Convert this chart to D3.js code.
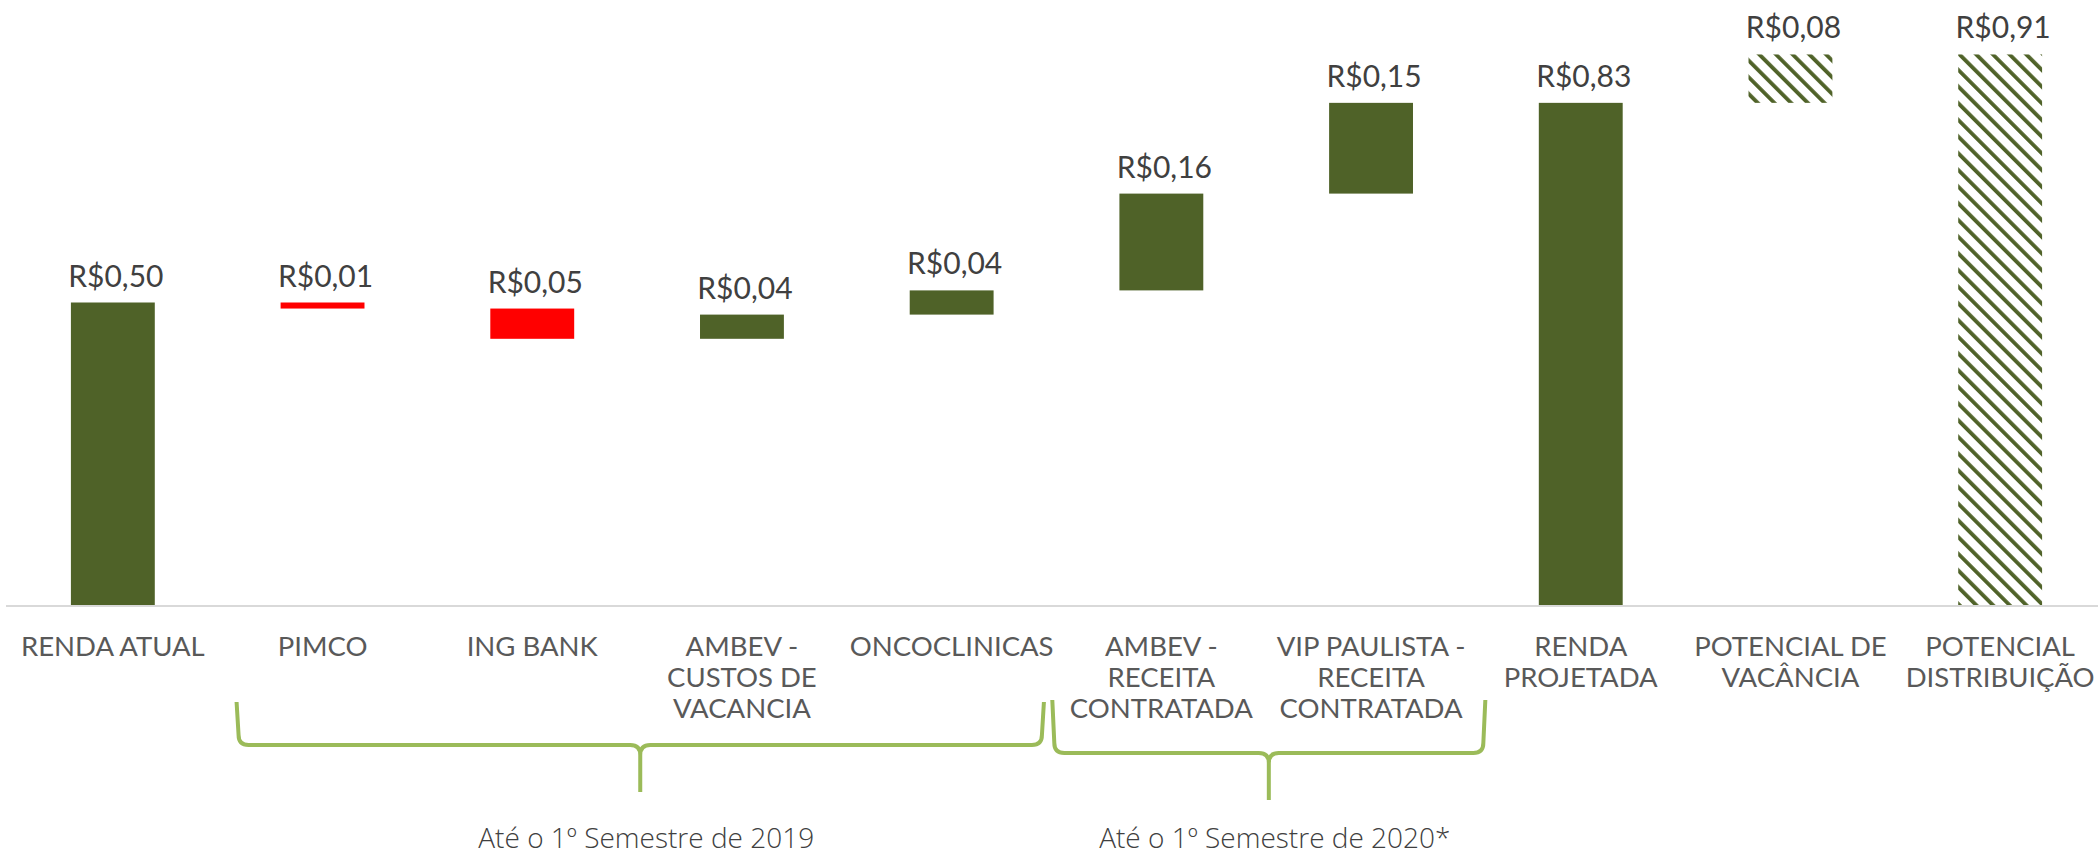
<!DOCTYPE html>
<html>
<head>
<meta charset="utf-8">
<script src="https://cdn.jsdelivr.net/npm/d3@7/dist/d3.min.js"></script>
<style>
  html, body { margin: 0; padding: 0; background: #ffffff; }
  svg { display: block; }
</style>
</head>
<body>
<svg id="chart" width="2098" height="855"></svg>
<script>
// ---------------- DATA ----------------
const categories = [
  "RENDA ATUAL",
  "PIMCO",
  "ING BANK",
  "AMBEV -\nCUSTOS DE\nVACANCIA",
  "ONCOCLINICAS",
  "AMBEV -\nRECEITA\nCONTRATADA",
  "VIP PAULISTA -\nRECEITA\nCONTRATADA",
  "RENDA\nPROJETADA",
  "POTENCIAL DE\nVACÂNCIA",
  "POTENCIAL\nDISTRIBUIÇÃO"
];
const values = [0.50, -0.01, -0.05, 0.04, 0.04, 0.16, 0.15, 0.83, 0.08, 0.91];
const kinds  = ["total", "delta", "delta", "delta", "delta", "delta", "delta", "total", "potential", "potentialTotal"];

const groupLabels = ["Até o 1º Semestre de 2019", "Até o 1º Semestre de 2020*"];
const groupSpans  = [[1, 4], [5, 6]];

// ---------------- LAYOUT ----------------
const W = 2098, H = 855;
const svg = d3.select("#chart");

const x = d3.scaleBand()
  .domain(categories)
  .range([8, 2105])
  .paddingInner(0.6)
  .paddingOuter(0.3);

const y = d3.scaleLinear().domain([0, 1]).range([605, 0]);

const OLIVE = "#4F6228";
const RED = "#FF0000";
const BRACE = "#9BBB59";

// hatch pattern (wide downward diagonal)
const defs = svg.append("defs");
const pat = defs.append("pattern")
  .attr("id", "hatch")
  .attr("patternUnits", "userSpaceOnUse")
  .attr("width", 11.8)
  .attr("height", 11.8)
  .attr("patternTransform", "rotate(-45)");
pat.append("rect").attr("width", 11.8).attr("height", 11.8).attr("fill", "#ffffff");
pat.append("rect").attr("x", 0).attr("y", 0).attr("width", 3.8).attr("height", 11.8).attr("fill", OLIVE);

// waterfall computation
let running = 0;
const bars = categories.map((c, i) => {
  const v = values[i];
  const k = kinds[i];
  let start, end;
  if (k === "total" || k === "potentialTotal") {
    start = 0; end = v;
    if (k === "total") running = v;
  } else if (k === "potential") {
    start = running; end = running + v;
  } else {
    start = running; end = running + v; running = end;
  }
  return { cat: c, v, k, start, end };
});

const fmt = v => "R$" + d3.format(".2f")(Math.abs(v)).replace(".", ",");

// axis line
const axis = d3.axisBottom(x).tickSize(0).tickFormat("");
const gAxis = svg.append("g").attr("transform", `translate(0,${y(0) + 1})`).call(axis);
gAxis.select(".domain").attr("stroke", "#D9D9D9").attr("stroke-width", 2)
  .attr("d", `M6,0H${W}`);

// bars
svg.append("g").selectAll("rect")
  .data(bars)
  .join("rect")
  .attr("x", d => x(d.cat))
  .attr("width", x.bandwidth())
  .attr("y", d => y(Math.max(d.start, d.end)))
  .attr("height", d => Math.abs(y(d.start) - y(d.end)))
  .attr("fill", d => (d.k === "potential" || d.k === "potentialTotal") ? "url(#hatch)" : (d.v < 0 ? RED : OLIVE));

// value labels
svg.append("g").selectAll("text")
  .data(bars)
  .join("text")
  .attr("x", d => x(d.cat) + x.bandwidth() / 2 + 3)
  .attr("y", d => y(Math.max(d.start, d.end)) - 16)
  .attr("text-anchor", "middle")
  .attr("font-family", "Lato, 'Open Sans', sans-serif")
  .attr("font-size", 30)
  .attr("fill", "#404040")
  .text(d => fmt(d.v));

// category labels
const gCat = svg.append("g");
categories.forEach(c => {
  const t = gCat.append("text")
    .attr("text-anchor", "middle")
    .attr("font-family", "Lato, 'Open Sans', sans-serif")
    .attr("font-size", 27.5)
    .attr("fill", "#595959");
  c.split("\n").forEach((line, j) => {
    t.append("tspan")
      .attr("x", x(c) + x.bandwidth() / 2)
      .attr("y", 656 + j * 31)
      .text(line);
  });
});

// group braces
const step = x.step();
const braceLayout = [
  { l: -0.41, r: 0.44, top: 702, mid: 745, tip: 792 },
  { l: -0.52, r: 0.545, top: 700, mid: 753, tip: 800 }
];
const gBr = svg.append("g");
groupSpans.forEach((span, gi) => {
  const L = braceLayout[gi];
  const c0 = x(categories[span[0]]) + x.bandwidth() / 2;
  const c1 = x(categories[span[1]]) + x.bandwidth() / 2;
  const x0 = c0 + L.l * step;
  const x1 = c1 + L.r * step;
  const xc = (x0 + x1) / 2;
  const r = 10;
  const p = d3.path();
  p.moveTo(x0, L.top);
  p.lineTo(x0 + 2, L.mid - r);
  p.quadraticCurveTo(x0 + 2, L.mid, x0 + 2 + r, L.mid);
  p.lineTo(xc - r, L.mid);
  p.quadraticCurveTo(xc, L.mid, xc, L.mid + r);
  p.lineTo(xc, L.tip);
  p.moveTo(xc, L.mid + r);
  p.quadraticCurveTo(xc, L.mid, xc + r, L.mid);
  p.lineTo(x1 - 2 - r, L.mid);
  p.quadraticCurveTo(x1 - 2, L.mid, x1 - 2, L.mid - r);
  p.lineTo(x1, L.top);
  gBr.append("path")
    .attr("d", p.toString())
    .attr("fill", "none")
    .attr("stroke", BRACE)
    .attr("stroke-width", 4)
    .attr("stroke-linejoin", "round");
  gBr.append("text")
    .attr("x", xc + 6)
    .attr("y", 848)
    .attr("text-anchor", "middle")
    .attr("font-family", "'Open Sans', sans-serif")
    .attr("font-weight", 300)
    .attr("font-size", 28)
    .attr("fill", "#404040")
    .text(groupLabels[gi]);
});
</script>
</body>
</html>
